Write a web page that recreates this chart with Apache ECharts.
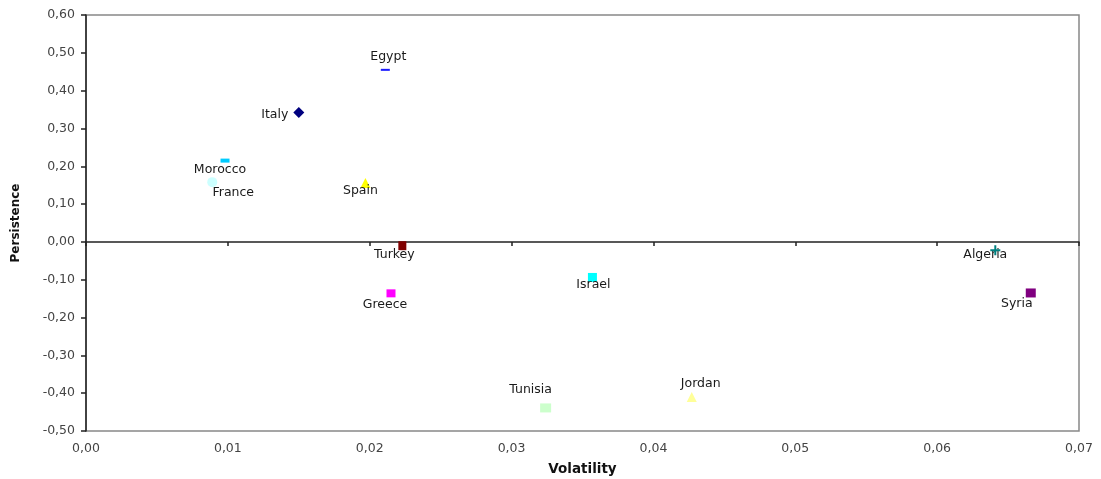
<!DOCTYPE html>
<html><head><meta charset="utf-8">
<script src="https://cdn.jsdelivr.net/npm/echarts@6/dist/echarts.min.js"></script>
<style>html,body{margin:0;padding:0;background:#fff}#c{width:1101px;height:479px}</style>
</head><body><div id="c"></div>
<script>
const countries = ["Egypt","Italy","Morocco","France","Spain","Turkey","Greece","Israel","Tunisia","Jordan","Algeria","Syria"];
const volatility = [0.0211,0.0150,0.0098,0.0089,0.0197,0.0223,0.0215,0.0357,0.0324,0.0427,0.0641,0.0666];
const persistence = [0.455,0.342,0.215,0.158,0.156,-0.010,-0.136,-0.094,-0.439,-0.410,-0.022,-0.135];
const xTicks = [0,0.01,0.02,0.03,0.04,0.05,0.06,0.07];
const yTicks = [-0.5,-0.4,-0.3,-0.2,-0.1,0,0.1,0.2,0.3,0.4,0.5,0.6];

// styles (per country): color, symbol, size, label offset
const colors = ["#1a1aff","#00007f","#00ccff","#ccffff","#ffff00","#800000","#ff00ff","#00ffff","#ccffcc","#ffff99","#008080","#800080"];
const symbols = ["rect","diamond","rect","circle","triangle","rect","rect","rect","rect","triangle","rect","rect"];
const sizes = [[9,2],11,[9,4],10,10,[8,9],[9,8],[9,9],[11,9],10,[1,1],[10,9]];
const labelOffsets = [[3,-13],[-24,2],[-5,9],[21,11],[-5,8],[-8,9],[-6,11],[1,7],[-15,-18],[9,-13],[-10,5],[-14,11]];

const comma = v => v.toFixed(2).replace('.', ',');
const FONT = 'DejaVu Sans';

const series = countries.map((name,i)=>({
  name, type:'scatter', xAxisIndex:0, yAxisIndex:0,
  data:[[volatility[i], persistence[i]]],
  symbol: symbols[i], symbolSize: sizes[i],
  itemStyle:{color:colors[i], opacity:1},
  label:{show:true, formatter:name, position:'inside', offset:labelOffsets[i],
    color:'#1a1a1a', fontFamily:FONT, fontSize:12.5},
  z: 3
}));
// Algeria plus marker
series.push({
  name:'Algeria+', type:'scatter', xAxisIndex:0, yAxisIndex:0,
  data:[[volatility[10], persistence[10]]],
  symbol:'path://M4,0 L6,0 L6,4 L10,4 L10,6 L6,6 L6,10 L4,10 L4,6 L0,6 L0,4 L4,4 Z',
  symbolSize:10, itemStyle:{color:'#008080', opacity:1}, z:4
});

const gridPos = {left:86, right:22, top:15, bottom:48, containLabel:false, outerBoundsMode:'none'};
const chart = echarts.init(document.getElementById('c'));
chart.setOption({
  animation:false,
  grid:[
    Object.assign({show:true, borderColor:'#888', borderWidth:1.5, backgroundColor:'#fff'}, gridPos),
    Object.assign({show:false}, gridPos)
  ],
  xAxis:[{
    gridIndex:0, type:'value', min:0, max:0.07, interval:0.01, position:'bottom',
    name:'Volatility', nameLocation:'middle', nameGap:31,
    nameTextStyle:{fontFamily:FONT, fontWeight:'bold', fontSize:13.5, color:'#111'},
    axisLine:{show:false}, axisTick:{show:false}, splitLine:{show:false},
    axisLabel:{formatter:v=>comma(v), fontFamily:FONT, fontSize:12.5, color:'#444', margin:11}
  },{
    gridIndex:1, type:'value', min:0, max:0.07, interval:0.01,
    axisLine:{show:true, onZero:true, lineStyle:{color:'#222', width:1.5}},
    axisTick:{show:true, length:4, lineStyle:{color:'#222', width:1.5}},
    axisLabel:{show:false}, splitLine:{show:false}
  }],
  yAxis:[{
    gridIndex:0, type:'value', min:-0.5, max:0.6, interval:0.1,
    name:'Persistence', nameLocation:'middle', nameGap:64,
    nameTextStyle:{fontFamily:FONT, fontWeight:'bold', fontSize:12, color:'#111'},
    axisLine:{show:true, onZero:false, lineStyle:{color:'#222', width:1.5}},
    axisTick:{show:true, length:5, lineStyle:{color:'#222', width:1.5}},
    splitLine:{show:false},
    axisLabel:{formatter:v=>comma(v), fontFamily:FONT, fontSize:12.5, color:'#444', margin:11}
  },{
    gridIndex:1, type:'value', min:-0.5, max:0.6, interval:0.1, show:false
  }],
  series
});
</script></body></html>
